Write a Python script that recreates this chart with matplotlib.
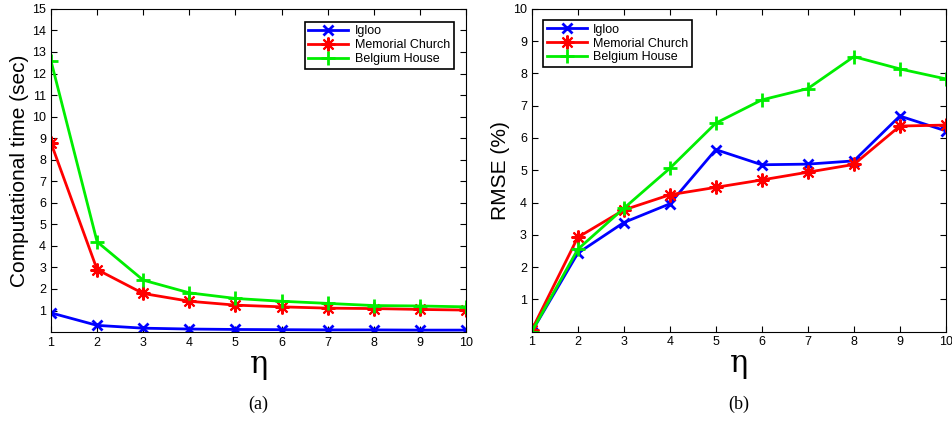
import numpy as np
import matplotlib.pyplot as plt

plt.rcParams['font.family'] = ['Liberation Sans', 'DejaVu Sans']

eta = np.arange(1, 11)
series_names = ['Igloo', 'Memorial Church', 'Belgium House']

# computational time (sec)
time_igloo = [0.89, 0.31, 0.18, 0.14, 0.12, 0.11, 0.10, 0.10, 0.09, 0.09]
time_church = [8.78, 2.90, 1.79, 1.43, 1.25, 1.17, 1.11, 1.09, 1.05, 1.02]
time_belgium = [12.59, 4.19, 2.41, 1.82, 1.56, 1.43, 1.33, 1.23, 1.21, 1.17]

# RMSE (%)
rmse_igloo = [0.0, 2.43, 3.38, 3.96, 5.64, 5.17, 5.19, 5.29, 6.68, 6.22]
rmse_church = [0.05, 2.92, 3.77, 4.24, 4.47, 4.70, 4.94, 5.18, 6.37, 6.40]
rmse_belgium = [0.0, 2.55, 3.82, 5.06, 6.46, 7.18, 7.53, 8.52, 8.14, 7.83]

colors = ['#0000ff', '#ff0000', '#00ee00']
markers = ['x', (8, 2, 0), '+']   # matlab style x, asterisk, plus
msizes = [7, 10, 10]
medges = [2, 1.5, 2]

fig = plt.figure(figsize=(9.53, 4.23), dpi=100)
ax1 = fig.add_axes([0.0535, 0.215, 0.4355, 0.764])
ax2 = fig.add_axes([0.558, 0.216, 0.4345, 0.763])


def draw(ax, data, ymax, ylabel, loc, anchor, tag):
    for d, c, m, s, mew, name in zip(data, colors, markers, msizes, medges, series_names):
        ax.plot(eta, d, color=c, marker=m, markersize=s, markeredgewidth=mew,
                linewidth=2, label=name)
    ax.set_xlim(1, 10)
    ax.set_ylim(0, ymax)
    ax.set_xticks(eta)
    ax.set_yticks(np.arange(1, ymax + 1))
    ax.tick_params(direction='in', top=True, right=True, labelsize=9, length=4)
    ax.set_ylabel(ylabel, fontsize=15, labelpad=2)
    ax.set_xlabel('η', fontsize=22, family='DejaVu Serif', labelpad=0)
    leg = ax.legend(loc=loc, bbox_to_anchor=anchor, fontsize=9, fancybox=False,
                    edgecolor='black', framealpha=1, handlelength=3.2,
                    borderpad=0.3, labelspacing=0.15, handletextpad=0.5)
    leg.get_frame().set_linewidth(1.2)
    ax.text(0.5, -0.225, tag, transform=ax.transAxes, ha='center', va='center',
            fontsize=13, family='Liberation Serif')


draw(ax1, [time_igloo, time_church, time_belgium], 15,
     'Computational time (sec)', 'upper right', (0.985, 0.98), '(a)')
draw(ax2, [rmse_igloo, rmse_church, rmse_belgium], 10,
     'RMSE (%)', 'upper left', (0.012, 0.985), '(b)')

fig.savefig('out.png', dpi=100)
